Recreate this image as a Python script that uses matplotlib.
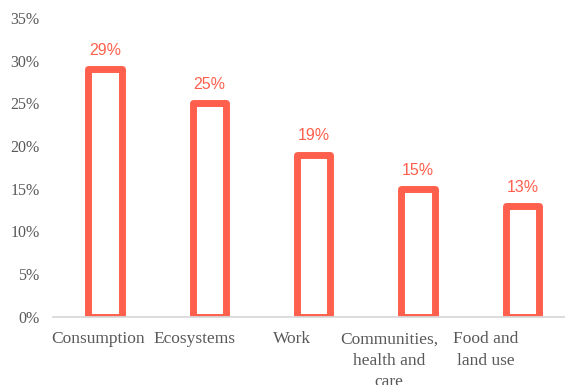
import matplotlib
matplotlib.use("Agg")
import matplotlib.pyplot as plt
import numpy as np
from matplotlib.ticker import FuncFormatter, MultipleLocator

# Share of responses per theme
categories = ["Consumption", "Ecosystems", "Work",
              "Communities,\nhealth and\ncare", "Food and\nland use"]
values = [0.29, 0.25, 0.19, 0.15, 0.13]
value_labels = ["29%", "25%", "19%", "15%", "13%"]

bar_color = "#FF604D"
text_gray = "#595959"

fig = plt.figure(figsize=(5.65, 3.85), dpi=100)
ax = fig.add_axes([53 / 565, 68.3 / 385, 521.5 / 565, 298.7 / 385])

x = np.arange(len(categories))
ax.bar(x, values, width=0.32, facecolor="white", edgecolor=bar_color,
       linewidth=5.0, joinstyle="round", zorder=2)

for xi, v, lab in zip(x, values, value_labels):
    ax.annotate(lab, (xi, v), xytext=(0, 8), textcoords="offset points",
                ha="center", va="bottom", fontsize=11.5,
                family="Liberation Sans", color=bar_color)

ax.set_xlim(-0.5, len(categories) - 0.5)
ax.set_ylim(0, 0.35)
ax.yaxis.set_major_locator(MultipleLocator(0.05))
ax.yaxis.set_major_formatter(FuncFormatter(lambda v, _: f"{v * 100:.0f}%"))

# category labels sit on a slightly compressed scale
label_pos = x * 0.93 - 0.07
ax.set_xticks(label_pos)
ax.set_xticklabels(categories, linespacing=1.45)

for lbl in ax.get_xticklabels():
    lbl.set_family("Liberation Serif")
    lbl.set_fontsize(12.5)
    lbl.set_color(text_gray)
for lbl in ax.get_yticklabels():
    lbl.set_family("Liberation Serif")
    lbl.set_fontsize(11.5)
    lbl.set_color(text_gray)

ax.tick_params(axis="x", length=0, pad=10.5)
ax.tick_params(axis="y", length=0, pad=9.5)

for side in ("left", "right", "top"):
    ax.spines[side].set_visible(False)
ax.spines["bottom"].set_color("#D9D9D9")
ax.spines["bottom"].set_linewidth(1.3)
ax.spines["bottom"].set_zorder(3)

fig.savefig("out.png", dpi=100)
